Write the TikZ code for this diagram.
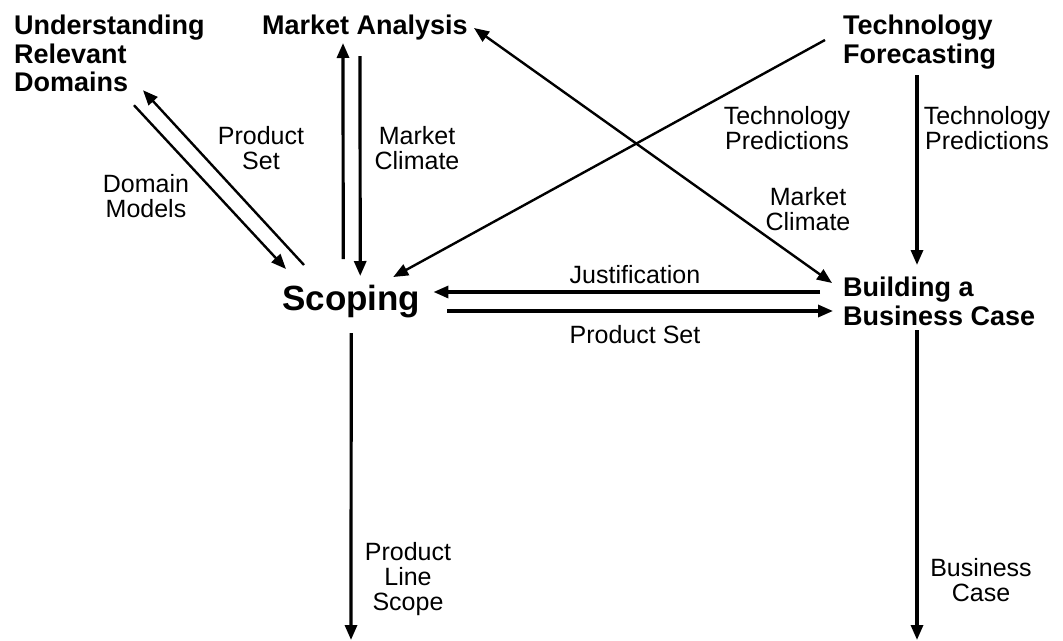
\documentclass[tikz,border=0pt]{standalone}
\usepackage{fontspec}
\setmainfont{Liberation Sans}
\usetikzlibrary{arrows.meta,calc}
\tikzset{
  activity/.style={font=\fontsize{27}{28.5}\selectfont\bfseries, inner sep=0pt, align=left},
  core/.style={font=\fontsize{35}{40}\selectfont\bfseries, inner sep=0pt},
  flowlabel/.style={font=\fontsize{25}{25}\selectfont, inner sep=0pt, align=center},
  flow/.style={line width=3.2pt, -{Triangle[length=15pt,width=12pt]}},
  slant/.style={flow, line width=2.4pt},
  twoway/.style={slant, {Triangle[length=15pt,width=12pt]}-{Triangle[length=15pt,width=12pt]}},
}

\begin{document}
\begin{tikzpicture}[x=1pt,y=-1pt]
  \useasboundingbox (0,0) rectangle (1063,640);

  % activities
  \node[activity, anchor=north west] (urd) at (14,15) {Understanding\\Relevant\\Domains};
  \node[activity, anchor=north west] (ma) at (262,15) {Market Analysis};
  \node[activity, anchor=north west] (tf) at (843,15) {Technology\\Forecasting};
  \node[core, anchor=north west] (scope) at (282,285) {Scoping};
  \node[activity, anchor=north west] (bbc) at (843,277) {Building a\\Business Case};

  % free ends at the bottom
  \coordinate (plsEnd) at (351,640);
  \coordinate (bcEnd) at (917,640);

  % flows
  \draw[flow] ($(scope.north)+(-8,-26)$) -- ($(ma.north west)+(81,28)$);
  \draw[flow] ($(ma.north west)+(98,41)$) -- ($(scope.north)+(9,-9)$);
  \draw[slant] ($(scope.north west)+(22,-20)$) -- ($(urd.south west)+(129,-2)$);
  \draw[slant] ($(urd.south west)+(120,13)$) -- ($(scope.north west)+(4,-16)$);
  \draw[slant] ($(tf.north west)+(-18,25)$) -- ($(scope.north)+(42,-8)$);
  \draw[twoway] ($(ma.north east)+(6,13)$) -- ($(bbc.north west)+(-11,6)$);
  \draw[flow] ($(tf.north west)+(74,60)$) -- ($(bbc.north west)+(74,-12)$);
  \draw[flow] ($(bbc.north west)+(-23,15)$) -- ($(scope.north east)+(13,7)$);
  \draw[flow] ($(scope.north east)+(27,26)$) -- ($(bbc.north west)+(-10,34)$);
  \draw[flow] ($(scope.south)+(0,15)$) -- (plsEnd);
  \draw[flow] ($(bbc.north west)+(74,53)$) -- (bcEnd);

  % labels
  \node[flowlabel, anchor=north] (lps1) at (261,126) {Product\\Set};
  \node[flowlabel, anchor=north] (ldm) at (146,174) {Domain\\Models};
  \node[flowlabel, anchor=north] (lmc1) at (417,126) {Market\\Climate};
  \node[flowlabel, anchor=north] (ltp1) at (787,106) {Technology\\Predictions};
  \node[flowlabel, anchor=north] (ltp2) at (987,106) {Technology\\Predictions};
  \node[flowlabel, anchor=north] (lmc2) at (808,187) {Market\\Climate};
  \node[flowlabel, anchor=north] (ljust) at (635,265) {Justification};
  \node[flowlabel, anchor=north] (lps2) at (635,325) {Product Set};
  \node[flowlabel, anchor=north] (lpls) at (408,542) {Product\\Line\\Scope};
  \node[flowlabel, anchor=north] (lbc) at (981,558) {Business\\Case};
\end{tikzpicture}
\end{document}
